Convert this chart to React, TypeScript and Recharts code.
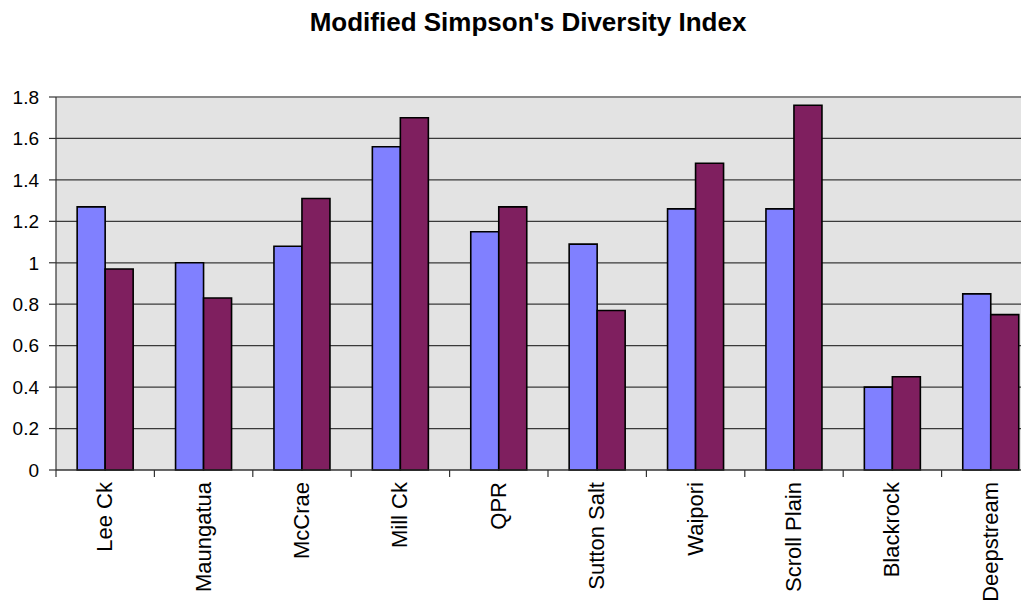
import React from "react";
import { BarChart, Bar, XAxis, YAxis, CartesianGrid, ReferenceLine } from "recharts";

const categories = ["Lee Ck", "Maungatua", "McCrae", "Mill Ck", "QPR", "Sutton Salt", "Waipori", "Scroll Plain", "Blackrock", "Deepstream"];
const seriesA = [1.27, 1.0, 1.08, 1.56, 1.15, 1.09, 1.26, 1.26, 0.4, 0.85];
const seriesB = [0.97, 0.83, 1.31, 1.7, 1.27, 0.77, 1.48, 1.76, 0.45, 0.75];
const yTicks = [0, 0.2, 0.4, 0.6, 0.8, 1, 1.2, 1.4, 1.6, 1.8];
const title = "Modified Simpson's Diversity Index";

const data = categories.map((c, i) => ({ name: c, a: seriesA[i], b: seriesB[i] }));

const FONT = "'Liberation Sans', Arial, sans-serif";

const XTick = (props: any) => {
  const { x, y, payload } = props;
  const off = payload && payload.offset ? payload.offset : 0;
  return (
    <g>
      <line x1={x - off} y1={y} x2={x - off} y2={y + 7} stroke="#333" strokeWidth={1.2} />
      <text
        x={x + 7}
        y={y + 12}
        transform={`rotate(-90, ${x + 7}, ${y + 12})`}
        textAnchor="end"
        fontFamily={FONT}
        fontSize={22}
        fill="#000"
      >
        {payload.value}
      </text>
    </g>
  );
};

export default function App() {
  return (
    <div style={{ position: "relative", width: 1021, height: 592, overflow: "hidden" }}>
      <div
        style={{
          position: "absolute",
          left: 0,
          width: 1040,
          top: -1,
          textAlign: "center",
          fontFamily: FONT,
          fontWeight: "bold",
          fontSize: 26,
        }}
      >
        {title}
      </div>
      <div style={{ position: "absolute", left: 0, top: 0 }}>
        <BarChart
          width={1040}
          height={592}
          data={data}
          margin={{ top: 89, right: 8, bottom: 0, left: 0 }}
          barCategoryGap="21.5%"
          barGap={0}
        >
          <CartesianGrid vertical={false} fill="#e3e3e3" stroke="#3a3a3a" strokeWidth={1.2} />
          <ReferenceLine y={1.8} stroke="#888" strokeWidth={2} />
          <XAxis
            dataKey="name"
            tick={<XTick />}
            tickLine={false}
            tickSize={0}
            tickMargin={0}
            interval={0}
            height={130}
            axisLine={{ stroke: "#333", strokeWidth: 1.2 }}
          />
          <YAxis
            domain={[0, 1.8]}
            ticks={yTicks}
            width={48}
            tickSize={7}
            tickMargin={10}
            interval={0}
            tickFormatter={(v: number) => String(Math.round(v * 10) / 10)}
            tick={{ fontFamily: FONT, fontSize: 19, fill: "#000" }}
            tickLine={{ stroke: "#333", strokeWidth: 1.2 }}
            axisLine={{ stroke: "#333", strokeWidth: 1.2 }}
          />
          <Bar dataKey="a" fill="#8080ff" stroke="#000" strokeWidth={1.6} isAnimationActive={false} />
          <Bar dataKey="b" fill="#7f1f5f" stroke="#000" strokeWidth={1.6} isAnimationActive={false} />
        </BarChart>
      </div>
    </div>
  );
}
